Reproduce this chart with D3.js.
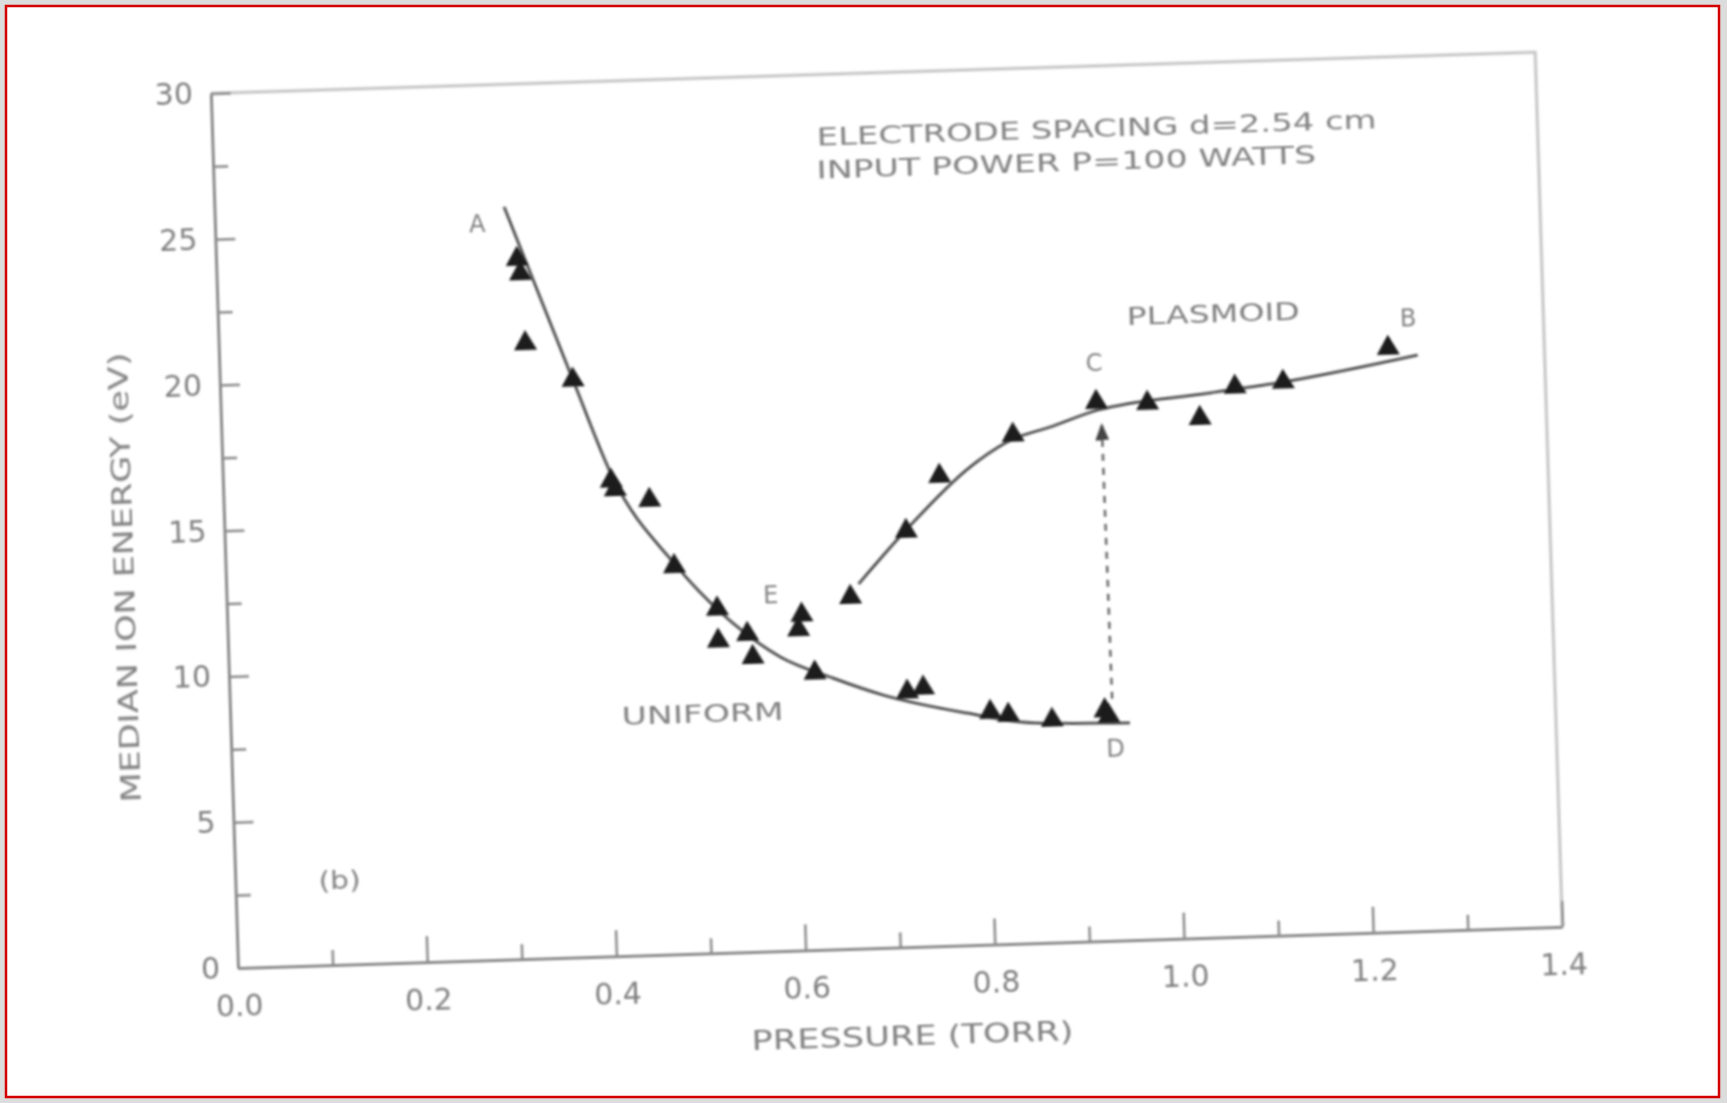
<!DOCTYPE html>
<html>
<head>
<meta charset="utf-8">
<script src="https://cdn.jsdelivr.net/npm/d3@7"></script>
<style>
  html, body { margin: 0; background: #dcdcdc; }
  svg { display: block; }
</style>
</head>
<body>
<svg id="chart" width="1727" height="1103"></svg>
<script>
// measured points, uniform discharge branch (A -> D)
const uniformPts = [
  [0.318, 24.0], [0.321, 23.5], [0.324, 21.1], [0.373, 19.8], [0.410, 16.3],
  [0.414, 16.0], [0.450, 15.6], [0.474, 13.3], [0.518, 11.8], [0.518, 10.7],
  [0.549, 10.9], [0.554, 10.1], [0.619, 9.5], [0.716, 8.75], [0.733, 8.87],
  [0.803, 7.97], [0.822, 7.85], [0.868, 7.63], [0.924, 7.9], [0.928, 7.7]
];
// hand drawn curve through the uniform branch
const uniformCurve = [
  [0.306, 25.8], [0.373, 19.8], [0.412, 16.4], [0.474, 13.4],
  [0.534, 11.29], [0.583, 10.08], [0.638, 9.30], [0.690, 8.67], [0.778, 7.96],
  [0.848, 7.55], [0.950, 7.45]
];
// measured points, plasmoid branch (E -> C -> B)
const plasmoidPts = [
  [0.607, 11.5], [0.603, 11.0], [0.659, 12.06], [0.720, 14.26], [0.757, 16.11],
  [0.836, 17.44], [0.925, 18.48], [0.979, 18.39], [1.034, 17.82], [1.072, 18.85],
  [1.123, 18.97], [1.235, 20.02]
];
const plasmoidCurve = [
  [0.668, 12.5], [0.720, 14.3], [0.790, 16.4], [0.836, 17.3], [0.875, 17.67],
  [0.926, 18.2], [1.045, 18.67], [1.123, 18.97], [1.266, 19.75]
];
// transition C <- D
const transition = [[0.932, 8.3], [0.930, 17.7]];

const xMajor = [0, 0.2, 0.4, 0.6, 0.8, 1.0, 1.2, 1.4];
const xLabels = ["0.0", "0.2", "0.4", "0.6", "0.8", "1.0", "1.2", "1.4"];
const xMinor = [0.1, 0.3, 0.5, 0.7, 0.9, 1.1, 1.3];
const yMajor = [0, 5, 10, 15, 20, 25, 30];
const yLabels = ["0", "5", "10", "15", "20", "25", "30"];
const yMinor = [2.5, 7.5, 12.5, 17.5, 22.5, 27.5];

// point labels [text, x, y]
const pointLabels = [["A", 0.277, 25.24], ["E", 0.575, 12.21], ["C", 0.924, 19.82],
  ["D", 0.934, 6.57], ["B", 1.257, 21.03]];
// free text [text, x, y(baseline), width px]
const notes = [
  ["ELECTRODE SPACING d=2.54 cm", 0.6385, 27.58, 560],
  ["INPUT POWER P=100 WATTS", 0.637, 26.45, 500],
  ["PLASMOID", 0.960, 21.08, 173],
  ["UNIFORM", 0.4135, 7.92, 162],
  ["(b)", 0.088, 2.59, 42]
];

const W = 1325, H = 875;
const svg = d3.select("#chart");

svg.append("rect").attr("x", 6).attr("y", 6).attr("width", 1713).attr("height", 1091)
  .attr("fill", "#fff").attr("stroke", "#d40000").attr("stroke-width", 2.5);

const defs = svg.append("defs");
defs.append("filter").attr("id", "scan")
  .append("feGaussianBlur").attr("stdDeviation", 1.2);
defs.append("marker").attr("id", "arrow").attr("viewBox", "0 0 10 10")
  .attr("refX", 9).attr("refY", 5).attr("markerWidth", 7).attr("markerHeight", 7)
  .attr("orient", "auto-start-reverse")
  .append("path").attr("d", "M0,1 L10,5 L0,9 z").attr("fill", "#444");

// the scanned page is turned a little
const g = svg.append("g")
  .attr("transform", "translate(238,968) rotate(-1.78)")
  .attr("filter", "url(#scan)")
  .style("font-family", "'DejaVu Sans', sans-serif");

const x = d3.scaleLinear().domain([0, 1.4]).range([0, W]);
const y = d3.scaleLinear().domain([0, 30]).range([0, -H]);

// frame top and right
g.append("path")
  .attr("d", `M0,${-H} H${W} V0`)
  .attr("fill", "none").attr("stroke", "#c4c4c4").attr("stroke-width", 3);

// bottom axis
g.append("g").call(
  d3.axisBottom(x).tickValues(xMajor).tickSize(-26).tickSizeOuter(0)
    .tickPadding(27).tickFormat((d, i) => xLabels[i]));
g.append("g").call(d3.axisBottom(x).tickValues(xMinor).tickSize(-15)
  .tickSizeOuter(0).tickFormat(""))
  .select(".domain").remove();

// left axis
g.append("g").call(
  d3.axisLeft(y).tickValues(yMajor).tickSize(-20).tickSizeOuter(0)
    .tickPadding(18).tickFormat((d, i) => yLabels[i]));
g.append("g").call(d3.axisLeft(y).tickValues(yMinor).tickSize(-15)
  .tickSizeOuter(0).tickFormat(""))
  .select(".domain").remove();

g.selectAll(".domain").attr("stroke", "#8a8a8a").attr("stroke-width", 3);
g.selectAll(".tick line").attr("stroke", "#8a8a8a").attr("stroke-width", 2.5);
g.selectAll(".tick text").attr("fill", "#808080").attr("font-size", 30)
  .attr("font-family", "'DejaVu Sans', sans-serif");

// axis titles
g.append("text").attr("x", 511).attr("y", 98)
  .attr("textLength", 322).attr("lengthAdjust", "spacingAndGlyphs")
  .attr("font-size", 27).attr("fill", "#808080")
  .text("PRESSURE (TORR)");
g.append("text")
  .attr("transform", `translate(-92,${y(13.5)}) rotate(-90)`)
  .attr("text-anchor", "middle")
  .attr("textLength", 450).attr("lengthAdjust", "spacingAndGlyphs")
  .attr("font-size", 27).attr("fill", "#808080")
  .text("MEDIAN ION ENERGY (eV)");

// curves
const line = d3.line().x(d => x(d[0])).y(d => y(d[1])).curve(d3.curveMonotoneX);
g.append("path").datum(uniformCurve).attr("d", line)
  .attr("fill", "none").attr("stroke", "#555").attr("stroke-width", 3);
g.append("path").datum(plasmoidCurve).attr("d", line)
  .attr("fill", "none").attr("stroke", "#555").attr("stroke-width", 3);

g.append("path").datum(transition).attr("d", d3.line().x(d => x(d[0])).y(d => y(d[1])))
  .attr("fill", "none").attr("stroke", "#666").attr("stroke-width", 2.5)
  .attr("stroke-dasharray", "7 7").attr("marker-end", "url(#arrow)");

// markers
const tri = d3.symbol().type(d3.symbolTriangle).size(230);
g.selectAll(".mark")
  .data(uniformPts.concat(plasmoidPts))
  .join("path")
  .attr("class", "mark")
  .attr("transform", d => `translate(${x(d[0])},${y(d[1])})`)
  .attr("d", tri)
  .attr("fill", "#1a1a1a");

// letters on the curves
g.selectAll(".plabel")
  .data(pointLabels)
  .join("text")
  .attr("class", "plabel")
  .attr("x", d => x(d[1])).attr("y", d => y(d[2]))
  .attr("text-anchor", "middle").attr("dominant-baseline", "central")
  .attr("font-size", 24).attr("fill", "#808080")
  .text(d => d[0]);

g.selectAll(".note")
  .data(notes)
  .join("text")
  .attr("class", "note")
  .attr("x", d => x(d[1])).attr("y", d => y(d[2]))
  .attr("textLength", d => d[3]).attr("lengthAdjust", "spacingAndGlyphs")
  .attr("font-size", 25).attr("fill", "#808080")
  .text(d => d[0]);
</script>
</body>
</html>
